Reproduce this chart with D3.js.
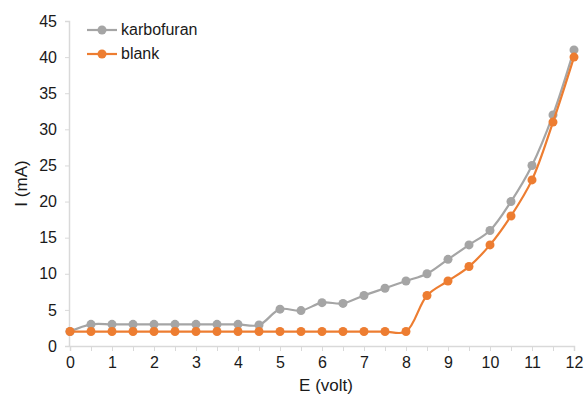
<!DOCTYPE html>
<html>
<head>
<meta charset="utf-8">
<script src="https://cdn.jsdelivr.net/npm/d3@7"></script>
<style>
  body { margin: 0; background: #fff; }
  text { font-family: "Liberation Sans", Arial, sans-serif; }
</style>
</head>
<body>
<div id="chart"></div>
<script>
// E (volt)
const voltage = [0, 0.5, 1, 1.5, 2, 2.5, 3, 3.5, 4, 4.5, 5, 5.5, 6, 6.5, 7, 7.5, 8, 8.5, 9, 9.5, 10, 10.5, 11, 11.5, 12];
// I (mA)
const karbofuran = [2, 3, 3, 3, 3, 3, 3, 3, 3, 2.9, 5.1, 4.9, 6, 5.9, 7, 8, 9, 10, 12, 14, 16, 20, 25, 32, 41];
const blank = [2, 2, 2, 2, 2, 2, 2, 2, 2, 2, 2, 2, 2, 2, 2, 2, 2, 7, 9, 11, 14, 18, 23, 31, 40];
const xTicks = [0, 1, 2, 3, 4, 5, 6, 7, 8, 9, 10, 11, 12];
const yTicks = [0, 5, 10, 15, 20, 25, 30, 35, 40, 45];

const series = [
    { name: "karbofuran", values: karbofuran, color: "#a5a5a5" },
    { name: "blank", values: blank, color: "#ed7d31" }
];

const width = 584, height = 396;
const margin = { top: 21, right: 10, bottom: 50, left: 70 };

const svg = d3.select("#chart")
    .append("svg")
    .attr("width", width)
    .attr("height", height);

const x = d3.scaleLinear()
    .domain([0, 12])
    .range([margin.left, 574]);

const y = d3.scaleLinear()
    .domain([0, 45])
    .range([346, margin.top]);

// y axis
const yAxis = svg.append("g")
    .attr("transform", `translate(${margin.left - 1},0)`)
    .call(d3.axisLeft(y).tickValues(yTicks).tickSize(4).tickPadding(8));
yAxis.select(".domain").attr("stroke", "#d9d9d9").attr("stroke-width", 1.5);
yAxis.selectAll(".tick line").attr("stroke", "#d9d9d9");
yAxis.selectAll("text").style("font-size", "16px").attr("fill", "#1a1a1a");

// x axis (minor ticks every 0.5)
const xMinor = svg.append("g")
    .attr("transform", `translate(0,${y(0)})`)
    .call(d3.axisBottom(x).tickValues(voltage).tickSize(5).tickFormat(""));
xMinor.select(".domain").attr("stroke", "#d9d9d9").attr("stroke-width", 1.5);
xMinor.selectAll(".tick line").attr("stroke", "#d9d9d9");

const xAxis = svg.append("g")
    .attr("transform", `translate(0,${y(0)})`)
    .call(d3.axisBottom(x).tickValues(xTicks).tickSize(5).tickPadding(6));
xAxis.select(".domain").remove();
xAxis.selectAll(".tick line").attr("stroke", "#d9d9d9");
xAxis.selectAll("text").style("font-size", "16px").attr("fill", "#1a1a1a");

// axis titles
svg.append("text")
    .attr("x", 326)
    .attr("y", 391)
    .attr("text-anchor", "middle")
    .style("font-size", "17px")
    .attr("fill", "#1a1a1a")
    .text("E (volt)");

svg.append("text")
    .attr("transform", `translate(27,${(y(0) + y(45)) / 2}) rotate(-90)`)
    .attr("text-anchor", "middle")
    .style("font-size", "17px")
    .attr("fill", "#1a1a1a")
    .text("I (mA)");

const line = d3.line()
    .x((d, i) => x(voltage[i]))
    .y(d => y(d))
    .curve(d3.curveCatmullRom.alpha(0.5));

// draw karbofuran first, blank on top
series.forEach(s => {
    svg.append("path")
        .datum(s.values)
        .attr("fill", "none")
        .attr("stroke", s.color)
        .attr("stroke-width", 2.2)
        .attr("d", line);

    svg.selectAll(null)
        .data(s.values)
        .enter()
        .append("circle")
        .attr("cx", (d, i) => x(voltage[i]))
        .attr("cy", d => y(d))
        .attr("r", 4.5)
        .attr("fill", s.color);
});

// legend
const legend = svg.append("g");
series.forEach((s, i) => {
    const ly = 30 + i * 24;
    legend.append("line")
        .attr("x1", 87).attr("x2", 117)
        .attr("y1", ly).attr("y2", ly)
        .attr("stroke", s.color)
        .attr("stroke-width", 2.2);
    legend.append("circle")
        .attr("cx", 102).attr("cy", ly)
        .attr("r", 4.5)
        .attr("fill", s.color);
    legend.append("text")
        .attr("x", 121)
        .attr("y", ly + 5)
        .style("font-size", "16px")
        .attr("fill", "#1a1a1a")
        .text(s.name);
});
</script>
</body>
</html>
